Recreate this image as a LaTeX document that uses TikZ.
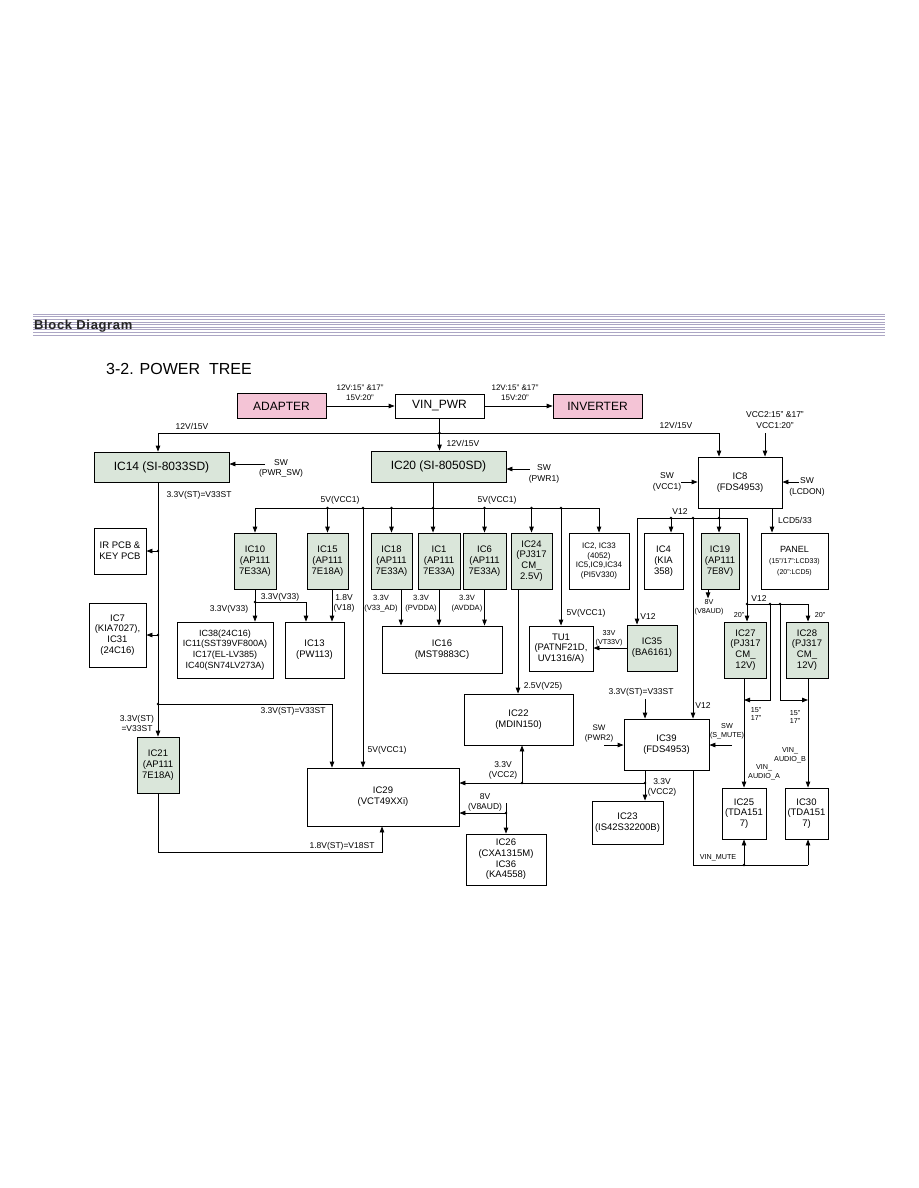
\documentclass[tikz,border=0pt]{standalone}
\usepackage{fontspec}
\setmainfont{Liberation Sans}
\usetikzlibrary{arrows.meta,calc}
\definecolor{gfill}{RGB}{218,230,218}
\definecolor{pfill}{RGB}{244,196,214}
\definecolor{hline}{RGB}{172,166,196}
\newcommand{\fsz}[2]{\fontsize{#1}{#2}\selectfont}
\tikzset{
 bx/.style={draw, line width=0.85pt, align=center, inner sep=0pt, font=\fsz{9.5}{10.7}},
 gbx/.style={bx, fill=gfill},
 big/.style={bx, font=\fsz{12}{14}},
 lab/.style={inner sep=0pt, align=center, font=\fsz{8.5}{10.5}},
 sm/.style={inner sep=0pt, align=center, font=\fsz{8}{10}},
 tiny/.style={inner sep=0pt, align=center, font=\fsz{7.2}{8.8}},
 ln/.style={line width=0.85pt},
 arr/.style={ln, -{Triangle[length=6pt,width=4.5pt]}},
 dot/.style={circle, fill, inner sep=0pt, minimum size=2.8pt},
 sz/.style 2 args={minimum width=#1pt, minimum height=#2pt},
}
\begin{document}
\begin{tikzpicture}[x=1pt,y=-1pt]
\useasboundingbox (0,0) rectangle (918,1188);
% header
\foreach \k in {0,...,8} \draw[hline, line width=0.5pt] (33,314+2.6*\k) -- (885,314+2.6*\k);
\node[anchor=west, inner sep=0pt, font=\fsz{13}{14}\bfseries\addfontfeatures{LetterSpace=5}, text=black!85] (hdr) at (34,326) {Block Diagram};
\node[anchor=west, inner sep=0pt, font=\fsz{16}{18}] (title) at (106,369) {3-2. POWER\ \ TREE};

% top boxes
\node[big, fill=pfill, sz={89}{25}] (adapter) at (281.5,406) {ADAPTER};
\node[big, sz={89}{24}] (vin) at (439.5,406) {VIN\_PWR};
\node[big, fill=pfill, sz={89}{24}] (inv) at (597.5,406) {INVERTER};
\node[big, fill=gfill, sz={135}{30}] (ic14) at (161.5,467) {IC14 (SI-8033SD)};
\node[big, fill=gfill, sz={135}{31}] (ic20) at (438.5,466.5) {IC20 (SI-8050SD)};
\node[bx, sz={84}{51}] (ic8) at (740,482.5) {IC8\\(FDS4953)};

% left column
\node[bx, sz={52}{46}] (ir) at (120,551) {IR PCB \&\\KEY PCB};
\node[bx, sz={57}{64}] (ic7) at (117.5,635) {IC7\\(KIA7027),\\IC31\\(24C16)};
\node[gbx, sz={42}{56}] (ic21) at (158,765) {IC21\\(AP111\\7E18A)};

% regulator row
\node[gbx, sz={42}{56}] (ic10) at (255,561) {IC10\\(AP111\\7E33A)};
\node[gbx, sz={41}{56}] (ic15) at (327.5,561) {IC15\\(AP111\\7E18A)};
\node[gbx, sz={41}{56}] (ic18) at (391.5,561) {IC18\\(AP111\\7E33A)};
\node[gbx, sz={42}{56}] (ic1) at (439,561) {IC1\\(AP111\\7E33A)};
\node[gbx, sz={43}{56}] (ic6) at (484.5,561) {IC6\\(AP111\\7E33A)};
\node[gbx, sz={41}{56}] (ic24) at (531.5,561) {IC24\\(PJ317\\CM\_\\2.5V)};
\node[bx, sz={60}{56}, font=\fsz{8}{9.8}] (ic2) at (599,561) {IC2, IC33\\(4052)\\IC5,IC9,IC34\\(PI5V330)};
\node[bx, sz={39}{56}] (ic4) at (663.5,561) {IC4\\(KIA\\358)};
\node[gbx, sz={38}{56}] (ic19) at (720,561) {IC19\\(AP111\\7E8V)};
\node[bx, sz={67}{56}] (panel) at (794.5,561) {\fsz{9}{10}PANEL\\\fsz{7}{8.5}(15"/17":LCD33)\\\fsz{7}{8.5}(20":LCD5)};

% second row
\node[bx, sz={96}{56}, font=\fsz{9}{10.8}] (ic38) at (225,650) {IC38(24C16)\\IC11(SST39VF800A)\\IC17(EL-LV385)\\IC40(SN74LV273A)};
\node[bx, sz={59}{56}] (ic13) at (314.5,650) {IC13\\(PW113)};
\node[bx, sz={120}{47}] (ic16) at (442,649.5) {IC16\\(MST9883C)};
\node[bx, sz={64}{45}] (tu1) at (561,648.5) {TU1\\(PATNF21D,\\UV1316/A)};
\node[gbx, sz={50}{46}] (ic35) at (652,648) {IC35\\(BA6161)};
\node[gbx, sz={42}{56}] (ic27) at (745.5,650) {IC27\\(PJ317\\CM\_\\12V)};
\node[gbx, sz={42}{56}] (ic28) at (807,650) {IC28\\(PJ317\\CM\_\\12V)};

% lower boxes
\node[bx, sz={109}{51}] (ic22) at (518.5,719.5) {IC22\\(MDIN150)};
\node[bx, sz={152}{58}] (ic29) at (383,797) {IC29\\(VCT49XXi)};
\node[bx, sz={85}{51}] (ic39) at (666.5,744.5) {IC39\\(FDS4953)};
\node[bx, sz={71}{43}] (ic23) at (627.5,822.5) {IC23\\(IS42S32200B)};
\node[bx, sz={80}{51}] (ic26) at (506,859.5) {IC26\\(CXA1315M)\\IC36\\(KA4558)};
\node[bx, sz={44}{51}] (ic25) at (744,813.5) {IC25\\(TDA151\\7)};
\node[bx, sz={43}{51}] (ic30) at (806.5,813.5) {IC30\\(TDA151\\7)};

% ---- top connectors
\draw[arr] (adapter.east) -- (adapter.east -| vin.west);
\draw[arr] (vin.east) -- (vin.east -| inv.west);
\node[sm] at (360,393) {12V:15" \&17"\\15V:20"};
\node[sm] at (515,393) {12V:15" \&17"\\15V:20"};
\coordinate (busL) at (158,433);
\coordinate (busR) at (719,433);
\draw[ln] (busL) -- (busR);
\draw[arr] (busL) -- (busL |- ic14.north);
\draw[arr] (busR) -- (busR |- ic8.north);
\draw[arr] (vin.south) -- (vin.south |- ic20.north);
\node[dot] at (vin.south |- busL) {};
\node[lab] at (192,426) {12V/15V};
\node[lab] at (463,443) {12V/15V};
\node[lab] at (676,425) {12V/15V};

% SW inputs
\coordinate (swa) at (265,464);
\draw[arr] (swa) -- (swa -| ic14.east);
\node[lab] at (281,468.5) {SW\\(PWR\_SW)};
\coordinate (swb) at (530,469);
\draw[arr] (swb) -- (swb -| ic20.east);
\node[lab] at (544,474) {SW\\(PWR1)};
\coordinate (vcc2) at (765,433);
\draw[arr] (vcc2) -- (vcc2 |- ic8.north);
\node[lab] at (775,420) {VCC2:15" \&17"\\VCC1:20"};
\coordinate (swc) at (681,482);
\draw[arr] (swc) -- (swc -| ic8.west);
\node[lab] at (667,482) {SW\\(VCC1)};
\coordinate (swd) at (799,482);
\draw[arr] (swd) -- (swd -| ic8.east);
\node[lab] at (807,487) {SW\\(LCDON)};

% ---- IC14 standby rail
\coordinate (v33) at (158,704);
\draw[ln] (v33 |- ic14.south) -- (v33);
\draw[arr] (v33) -- (v33 |- ic21.north);
\draw[arr] (v33 |- ir.east) -- (ir.east);
\node[dot] at (v33 |- ir.east) {};
\draw[arr] (v33 |- ic7.east) -- (ic7.east);
\node[dot] at (v33 |- ic7.east) {};
\node[dot] at (v33) {};
\coordinate (c29a) at (332,704);
\draw[arr] (v33) -- (c29a) -- (c29a |- ic29.north);
\node[lab] at (199,495) {3.3V(ST)=V33ST};
\node[lab] at (293,711) {3.3V(ST)=V33ST};
\node[lab] at (137,723.5) {3.3V(ST)\\=V33ST};
\coordinate (c18a) at (158,852);
\coordinate (c18b) at (382,852);
\draw[arr] (ic21.south) -- (c18a) -- (c18b) -- (c18b |- ic29.south);
\node[lab] at (342,846) {1.8V(ST)=V18ST};

% ---- 5V bus
\coordinate (b5) at (433,508);
\draw[ln] (ic10.north |- b5) -- (ic2.north |- b5);
\draw[ln] (b5 |- ic20.south) -- (b5);
\draw[arr] (b5) -- (b5 |- ic1.north);
\node[dot] at (b5) {};
\foreach \n in {ic10,ic15,ic18,ic6,ic24,ic2} \draw[arr] (\n.north |- b5) -- (\n.north);
\foreach \n in {ic15,ic18,ic6,ic24} \node[dot] at (\n.north |- b5) {};
\coordinate (c29b) at (363,508);
\draw[arr] (c29b) -- (c29b |- ic29.north);
\node[dot] at (c29b) {};
\draw[arr] (tu1.north |- b5) -- (tu1.north);
\node[dot] at (tu1.north |- b5) {};
\node[lab] at (340,500) {5V(VCC1)};
\node[lab] at (497,500) {5V(VCC1)};
\node[lab] at (586,613) {5V(VCC1)};
\node[lab] at (387,750) {5V(VCC1)};

% ---- IC10 / IC15 outputs
\coordinate (c10) at (255,602);
\coordinate (c13) at (306,602);
\draw[arr] (ic10.south) -- (ic10.south |- ic38.north);
\draw[arr] (c10) -- (c13) -- (c13 |- ic13.north);
\node[dot] at (c10) {};
\coordinate (c15) at ($(ic15.south)+(4.5,0)$);
\draw[arr] (c15) -- (c15 |- ic13.north);
\node[lab] at (280,597) {3.3V(V33)};
\node[lab] at (229,609) {3.3V(V33)};
\node[lab] at (344,603.5) {1.8V\\(V18)};

% ---- IC16 inputs
\coordinate (c18) at ($(ic18.south)+(9.5,0)$);
\draw[arr] (c18) -- (c18 |- ic16.north);
\draw[arr] (ic1.south) -- (ic1.south |- ic16.north);
\draw[arr] (ic6.south) -- (ic6.south |- ic16.north);
\node[tiny, font=\fsz{7.6}{9.6}] at (381,603.5) {3.3V\\(V33\_AD)};
\node[tiny, font=\fsz{7.6}{9.6}] at (421,603.5) {3.3V\\(PVDDA)};
\node[tiny, font=\fsz{7.6}{9.6}] at (467,603.5) {3.3V\\(AVDDA)};

% ---- IC24 -> IC22
\coordinate (c24) at ($(ic24.south)+(-13.5,0)$);
\draw[arr] (c24) -- (c24 |- ic22.north);
\node[lab] at (543,686) {2.5V(V25)};

% ---- IC35 -> TU1
\draw[arr] (ic35.west) -- (ic35.west -| tu1.east);
\node[tiny] at (609,638) {33V\\(VT33V)};

% ---- V12 bus
\coordinate (v12) at (719,518);
\coordinate (v12L) at (637,518);
\coordinate (v12R) at (747,518);
\draw[ln] (v12 |- ic8.south) -- (v12);
\draw[arr] (v12) -- (v12 |- ic19.north);
\node[dot] at (v12) {};
\draw[ln] (v12L) -- (v12R);
\draw[arr] (v12L) -- (v12L |- ic35.north);
\coordinate (c4) at (671,518);
\draw[arr] (c4) -- (c4 |- ic4.north);
\node[dot] at (c4) {};
\coordinate (c39) at (693,518);
\draw[arr] (c39) -- (c39 |- ic39.north);
\node[dot] at (c39) {};
\node[lab] at (680,512) {V12};
\node[lab] at (648,617) {V12};
\node[lab] at (703,706) {V12};
\coordinate (cl) at ($(ic8.south)+(32,0)$);
\draw[arr] (cl) -- (cl |- panel.north);
\node[lab] at (795,520) {LCD5/33};
\coordinate (c19) at ($(ic19.south)+(-12,0)$);
\draw[arr] (c19) -- ++(0,9);
\node[tiny] at (709,607.5) {8V\\(V8AUD)};

% ---- second V12 bus (IC27/IC28)
\coordinate (v12b) at (747,604);
\coordinate (c28) at (808,604);
\draw[ln] (v12R) -- (v12b);
\draw[arr] (v12b) -- (v12b |- ic27.north);
\draw[arr] (v12b) -- (c28) -- (c28 |- ic28.north);
\node[dot] at (v12b) {};
\coordinate (ca) at (770,604);
\coordinate (cb) at (780,604);
\node[dot] at (ca) {};
\node[dot] at (cb) {};
\draw[arr] (ca) -- (770,700) -- (ic25.north |- 0,700);
\draw[arr] (cb) -- (780,700) -- (c28 |- 0,700);
\node[lab] at (759,599) {V12};
\node[tiny] at (739,615) {20"};
\node[tiny] at (820,615) {20"};
\draw[arr] (ic25.north |- ic27.south) -- (ic25.north);
\draw[arr] (c28 |- ic28.south) -- (c28 |- ic30.north);
\node[tiny] at (756,714) {15"\\17"};
\node[tiny] at (795,717) {15"\\17"};
\node[tiny] at (790,755.5) {VIN\_\\AUDIO\_B};
\node[tiny] at (764,772.5) {VIN\_\\AUDIO\_A};

% ---- IC39
\coordinate (c39t) at (645,699);
\draw[arr] (c39t) -- (c39t |- ic39.north);
\node[lab] at (641,692) {3.3V(ST)=V33ST};
\coordinate (swe) at (604,745);
\draw[arr] (swe) -- (swe -| ic39.west);
\node[sm] at (599,734) {SW\\(PWR2)};
\coordinate (swf) at (732,745);
\draw[arr] (swf) -- (swf -| ic39.east);
\node[tiny] at (727,731.5) {SW\\(S\_MUTE)};

\coordinate (c33) at (645,783);
\draw[ln] (c33 |- ic39.south) -- (c33);
\draw[arr] (c33) -- (c33 |- ic23.north);
\draw[arr] (c33) -- (c33 -| ic29.east);
\node[dot] at (c33) {};
\coordinate (c22) at (522,783);
\draw[arr] (c22) -- (c22 |- ic22.south);
\node[dot] at (c22) {};
\node[lab] at (503,770.5) {3.3V\\(VCC2)};
\node[lab] at (662,787.5) {3.3V\\(VCC2)};

% ---- 8V audio
\coordinate (c8t) at (506,803);
\coordinate (c8) at (506,813);
\draw[arr] (c8t) -- (c8t |- ic26.north);
\draw[arr] (c8) -- (c8 -| ic29.east);
\node[dot] at (c8) {};
\node[lab] at (485,802.5) {8V\\(V8AUD)};

% ---- VIN_MUTE
\coordinate (m1) at (693,865);
\coordinate (m2) at (808,865);
\coordinate (m3) at (744,865);
\draw[ln] (m1 |- ic39.south) -- (m1) -- (m2);
\draw[arr] (m2) -- (m2 |- ic30.south);
\draw[arr] (m3) -- (m3 |- ic25.south);
\node[dot] at (m3) {};
\node[tiny] at (718,858) {VIN\_MUTE};
\end{tikzpicture}
\end{document}
